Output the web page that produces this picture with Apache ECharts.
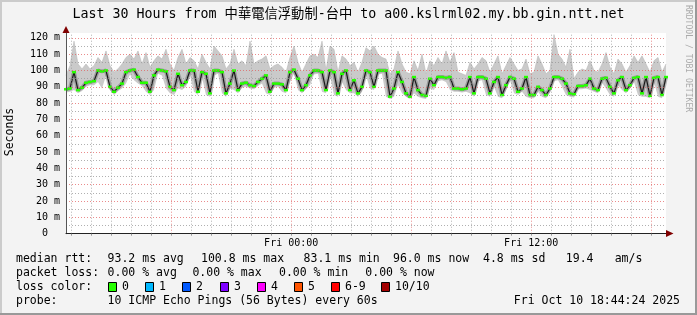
<!DOCTYPE html>
<html><head><meta charset="utf-8">
<script src="https://cdn.jsdelivr.net/npm/echarts@6/dist/echarts.min.js"></script>
<style>html,body{margin:0;padding:0;background:#f3f3f3}#c{width:697px;height:315px}</style>
</head><body><div id="c"></div>
<script>
// time axis in hours since Thu 00:00; samples every 12 minutes from Thu 12:44:24
const startHour = 12.74;
const spanHours = 30;
const stepHours = 0.2;

const median = [88.5,89,99,88,89.5,92.5,93,93.5,100,99.5,
 100,90,87,89.5,92,99,100,100.5,96,92.5,
 92.5,87,97,100.5,100,99.5,90,88,98,91,
 93,100,100,87,99,98,86,100,100,99,
 86,92,100,88,92,92.5,91,90.5,93,95,
 97,87,92,92,91.5,88,99,100.5,95,88,
 91,97,100,100,99,88,100,99,86,98,
 100,88,94,86,90,100,99,90,100,100,
 100,84,89,99,93,86,84,96,88,85,
 84.5,95,91,96,96,95.5,96,89,89,88.5,
 89,96,86,96,96,95,86,93,96,85,
 91,96,95,87,89,96,85,85,90,88,
 85,89,96,96,95,92,86,85.5,90.5,90.5,
 91,95,89,88,95,95.5,90,86,94,96,
 88,91,95.5,96,86,96,84.5,95.5,96,85,
 96];

const smokeLo = [86.5,87,88,86,87.5,90,91,91,93,89,
 97,88,85,87.5,89,92,97.5,94,92,90.5,
 87,85,88,98,97,89,86,85,89,88,
 90,97,87,85,96,85,84,97,98,86,
 84,89,88,86,89.5,90,89,88.5,90.5,92,
 86,85,89.5,90,87,86,93,98,88,86,
 88.5,91,97.5,98,87,86,97,85,84,93,
 88,86,86,84,87,97,89,88,97.5,98,
 84,82.5,84,91,86,84,82.5,86,84,83,
 82.5,89,88,93.5,94,93,88,87,87,86.5,
 87,86,84,93.5,94,85,84,90,84,83,
 88,94,86,85,87,84,83,83,87,84,
 83,87,93.5,94,90,85,84,83.5,88.5,88.5,
 89,88,87,86,92.5,89,85,84,91,88,
 86,89,93,85,84,84,83,93,84,83,
 93.5];

const smokeHi = [97,103,118,104,101,104,101,103,108,105,
 112,103,99,101,104,108,110,107,112,104,
 111,102,106,109,107,113,104,100,108,113,
 104,108,106,101,110,105,101,115,112,109,
 101,104,113,104,106,103,118,104,106,107,
 109,101,103,104,102,99,108,115,105,99,
 104,109,110,108,118,100,115,113,99,109,
 107,103,105,99,105,114,112,115,110,108,
 107,98,101,112,104,99,98,106,100,110,
 98,106,103,108,104,112,105,111,99,98,
 97,105,101,104,108,106,99,104,109,98,
 103,108,104,100,101,107,98,99,109,104,
 98,100,122,110,107,102,113,95,99,101,
 100,106,100,99,104,111,102,98,107,104,
 99,103,109,105,109,104,99,106,108,99,
 104];

const minorHours = [13,14,15,16,17,19,20,21,22,23,25,26,27,28,29,31,32,33,34,35,37,38,39,40,41];
const majorHours = [18,24,30,36,42];
const xLabelHours = [24,36];
const xLabelTexts = ['Fri 00:00','Fri 12:00'];
const yMinor = [5,15,25,35,45,55,65,75,85,95,105,115];
const yMajor = [10,20,30,40,50,60,70,80,90,100,110,120];

const titleText = 'Last 30 Hours from 中華電信浮動制-台中 to a00.kslrml02.my.bb.gin.ntt.net';
const rttStats = ['93.2 ms avg','100.8 ms max','83.1 ms min','96.0 ms now','4.8 ms sd','19.4','am/s'];
const lossStats = ['0.00 % avg','0.00 % max','0.00 % min','0.00 % now'];
const lossLabels = ['0','1','2','3','4','5','6-9','10/10'];
const lossColors = ['#26ff00','#00b8ff','#0059ff','#7e00ff','#ff00ff','#ff5500','#ff0000','#a10000'];
const probeText = '10 ICMP Echo Pings (56 Bytes) every 60s';
const dateText = 'Fri Oct 10 18:44:24 2025';

const times = median.map((_, i) => startHour + i * stepHours);
const pts = arr => arr.map((v, i) => [times[i], v]);

const MONO = '"DejaVu Sans Mono", "Noto Sans CJK TC", monospace';
const chart = echarts.init(document.getElementById('c'), null, {renderer: 'canvas'});

const rttX = [107.6, 201, 303.6, 393, 483, 565.8, 614.7];
const lossX = [107.6, 192.4, 279, 365.3];
const swatchX = [108, 145, 182, 220, 257, 294, 331, 381];

const graphics = [
  {type:'rect', shape:{x:0,y:0,width:697,height:2}, style:{fill:'#cbcbcb'}, silent:true},
  {type:'rect', shape:{x:0,y:0,width:2,height:315}, style:{fill:'#cbcbcb'}, silent:true},
  {type:'rect', shape:{x:695,y:0,width:2,height:315}, style:{fill:'#999999'}, silent:true},
  {type:'rect', shape:{x:0,y:313,width:697,height:2}, style:{fill:'#999999'}, silent:true},
  {type:'text', x:348.5, y:15, style:{text:titleText, font:'13.3px ' + MONO, fill:'#000', align:'center', verticalAlign:'middle'}},
  {type:'text', x:10, y:132, rotation:Math.PI/2, style:{text:'Seconds', font:'11.5px ' + MONO, fill:'#000', align:'center', verticalAlign:'middle'}},
  {type:'text', x:688, y:5, rotation:-Math.PI/2, style:{text:'RRDTOOL / TOBI OETIKER', font:'8.1px ' + MONO, fill:'#aaaaaa', align:'left', verticalAlign:'middle'}},
  {type:'polygon', shape:{points:[[66,26],[62.5,33],[69.5,33]]}, style:{fill:'#800000'}, z:10},
  {type:'polygon', shape:{points:[[673.5,233.5],[666,230],[666,237]]}, style:{fill:'#800000'}, z:10},
  {type:'text', x:16, y:259, style:{text:'median rtt:', font:'11.5px ' + MONO, fill:'#000', verticalAlign:'middle'}},
  {type:'text', x:16, y:273, style:{text:'packet loss:', font:'11.5px ' + MONO, fill:'#000', verticalAlign:'middle'}},
  {type:'text', x:16, y:287, style:{text:'loss color:', font:'11.5px ' + MONO, fill:'#000', verticalAlign:'middle'}},
  {type:'text', x:16, y:301, style:{text:'probe:', font:'11.5px ' + MONO, fill:'#000', verticalAlign:'middle'}},
  {type:'text', x:107.6, y:301, style:{text:probeText, font:'11.5px ' + MONO, fill:'#000', verticalAlign:'middle'}},
  {type:'text', x:680, y:301, style:{text:dateText, font:'11.5px ' + MONO, fill:'#000', align:'right', verticalAlign:'middle'}}
];
rttStats.forEach((s, i) => graphics.push({type:'text', x:rttX[i], y:259, style:{text:s, font:'11.5px ' + MONO, fill:'#000', verticalAlign:'middle'}}));
lossStats.forEach((s, i) => graphics.push({type:'text', x:lossX[i], y:273, style:{text:s, font:'11.5px ' + MONO, fill:'#000', verticalAlign:'middle'}}));
lossLabels.forEach((s, i) => {
  graphics.push({type:'rect', shape:{x:swatchX[i]+0.5, y:282.5, width:8, height:9}, style:{fill:lossColors[i], stroke:'#000', lineWidth:1}});
  graphics.push({type:'text', x:swatchX[i]+14, y:287, style:{text:s, font:'11.5px ' + MONO, fill:'#000', verticalAlign:'middle'}});
});

const gridLine = (color) => ({silent:true, symbol:'none', label:{show:false}, animation:false,
  lineStyle:{color:color, type:[1,2], width:1}, emphasis:{disabled:true}});

const option = {
  animation: false,
  backgroundColor: '#f3f3f3',
  grid: {left:66, top:33, right:31, bottom:81.3, show:true, backgroundColor:'#ffffff', borderWidth:0},
  xAxis: {type:'value', min:startHour, max:startHour + spanHours, z:5,
    splitLine:{show:false},
    axisLine:{show:true, lineStyle:{color:'#222', width:1}},
    axisTick:{show:true, customValues:minorHours.concat(majorHours), length:2, lineStyle:{color:'#999'}},
    axisLabel:{customValues:xLabelHours, formatter:(v) => xLabelTexts[xLabelHours.indexOf(Math.round(v))] || '',
      fontFamily:MONO, fontSize:10, color:'#000', margin:5}},
  yAxis: {type:'value', min:0, max:123, interval:10, z:5,
    splitLine:{show:false},
    axisLine:{show:true, lineStyle:{color:'#555', width:1}},
    axisTick:{show:false},
    axisLabel:{showMaxLabel:false, formatter:(v) => v === 0 ? '0  ' : (v % 10 === 0 ? v + ' m' : ''),
      fontFamily:MONO, fontSize:10, color:'#000', margin:6}},
  graphic: graphics,
  series: [
    {name:'smokeHi', type:'line', data:pts(smokeHi), symbol:'none', z:1,
      lineStyle:{width:0.6, color:'#b8b8b8'}, areaStyle:{color:'#cacaca', opacity:1}},
    {name:'smokeLo', type:'line', data:pts(smokeLo), symbol:'none', z:1,
      lineStyle:{width:0}, areaStyle:{color:'#ffffff', opacity:1}},
    {name:'gridMinor', type:'line', data:[], z:2,
      markLine:Object.assign(gridLine('rgba(150,150,150,0.75)'), {data: minorHours.map(h => ({xAxis:h})).concat(yMinor.map(v => ({yAxis:v})))})},
    {name:'gridMajor', type:'line', data:[], z:2,
      markLine:Object.assign(gridLine('rgba(225,90,90,0.7)'), {data: majorHours.map(h => ({xAxis:h})).concat(yMajor.map(v => ({yAxis:v})))})},
    {name:'smokeCore', type:'line', data:pts(median), symbol:'none', z:3,
      lineStyle:{width:4, color:'rgba(100,100,100,0.45)'}},
    {name:'median', type:'line', data:pts(median), z:4,
      symbol:'rect', symbolSize:[4,2.5], showSymbol:true, showAllSymbol:true,
      itemStyle:{color:'#26ff00'},
      lineStyle:{width:1.2, color:'#1a1a1a'}}
  ]
};
chart.setOption(option);
</script>
</body></html>
